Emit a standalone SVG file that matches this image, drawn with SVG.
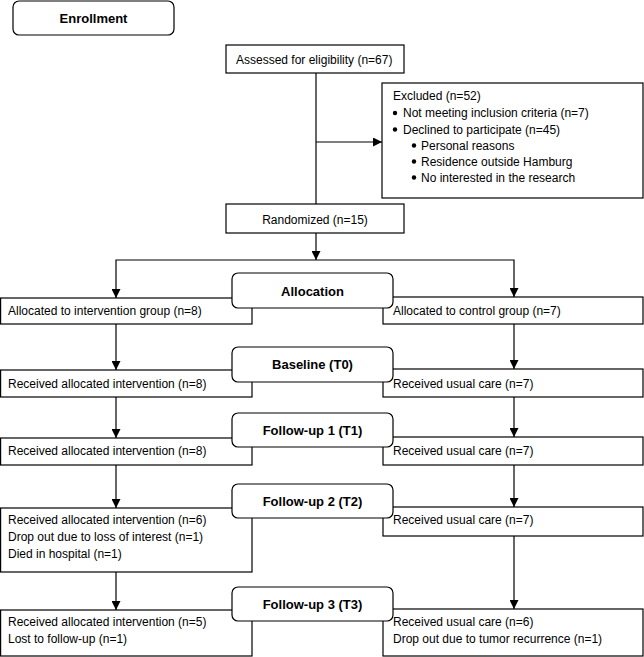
<svg xmlns="http://www.w3.org/2000/svg" width="644" height="657" viewBox="0 0 644 657">
<style>
.box{fill:#fff;stroke:#000;stroke-width:1.2}
.rbox{fill:#fff;stroke:#000;stroke-width:1.2}
.t{font-family:"Liberation Sans",Arial,sans-serif;font-size:12px;fill:#000}
.b{font-family:"Liberation Sans",Arial,sans-serif;font-size:13px;font-weight:bold;fill:#000;text-anchor:middle}
.c{fill:none;stroke:#000;stroke-width:1.2}
</style>
<defs>
<marker id="ah" markerUnits="userSpaceOnUse" markerWidth="9" markerHeight="9" refX="9" refY="4.5" orient="auto">
<path d="M0,0 L9,4.5 L0,9 z" fill="#000"/>
</marker>
</defs>
<g id="connectors">
<path class="c" d="M316,73 V204"/>
<path class="c" d="M316,142 H382" marker-end="url(#ah)"/>
<path class="c" d="M316,233 V260" marker-end="url(#ah)"/>
<path class="c" d="M316,260 H116 V298" marker-end="url(#ah)"/>
<path class="c" d="M316,260 H514 V297" marker-end="url(#ah)"/>
<path class="c" d="M116,324 V370" marker-end="url(#ah)"/>
<path class="c" d="M116,397 V438" marker-end="url(#ah)"/>
<path class="c" d="M116,465 V508" marker-end="url(#ah)"/>
<path class="c" d="M116,572 V610" marker-end="url(#ah)"/>
<path class="c" d="M514,324 V369" marker-end="url(#ah)"/>
<path class="c" d="M514,397 V437" marker-end="url(#ah)"/>
<path class="c" d="M514,465 V507" marker-end="url(#ah)"/>
<path class="c" d="M514,536 V609" marker-end="url(#ah)"/>
</g>
<g id="enrollment">
<rect class="rbox" x="13" y="1" width="161" height="34" rx="6"/>
<text class="b" x="93.5" y="23">Enrollment</text>
</g>
<g id="assessed">
<rect class="box" x="226" y="45" width="178" height="28"/>
<text class="t" x="236" y="64">Assessed for eligibility (n=67)</text>
</g>
<g id="excluded">
<rect class="box" x="382" y="83" width="261" height="115"/>
<text class="t" x="393" y="99.5">Excluded (n=52)</text>
<circle cx="395" cy="113" r="2.2"/>
<text class="t" x="403" y="117">Not meeting inclusion criteria (n=7)</text>
<circle cx="395" cy="129.5" r="2.2"/>
<text class="t" x="403" y="133.5">Declined to participate (n=45)</text>
<circle cx="414" cy="145.5" r="2.2"/>
<text class="t" x="421" y="149.5">Personal reasons</text>
<circle cx="414" cy="161.5" r="2.2"/>
<text class="t" x="421" y="165.5">Residence outside Hamburg</text>
<circle cx="414" cy="177.5" r="2.2"/>
<text class="t" x="421" y="181.5">No interested in the research</text>
</g>
<g id="randomized">
<rect class="box" x="226" y="204" width="178" height="29"/>
<text class="t" x="315" y="224" text-anchor="middle">Randomized (n=15)</text>
</g>
<g id="int-alloc">
<rect class="box" x="0.6" y="298" width="251.4" height="26"/>
<text class="t" x="8" y="315">Allocated to intervention group (n=8)</text>
</g>
<g id="ctl-alloc">
<rect class="box" x="383" y="297" width="260" height="27"/>
<text class="t" x="393" y="315">Allocated to control group (n=7)</text>
</g>
<g id="int-t0">
<rect class="box" x="0.6" y="370" width="251.4" height="27"/>
<text class="t" x="8" y="387.5">Received allocated intervention (n=8)</text>
</g>
<g id="ctl-t0">
<rect class="box" x="383" y="369" width="260" height="28"/>
<text class="t" x="393" y="387.5">Received usual care (n=7)</text>
</g>
<g id="int-t1">
<rect class="box" x="0.6" y="438" width="251.4" height="27"/>
<text class="t" x="8" y="455">Received allocated intervention (n=8)</text>
</g>
<g id="ctl-t1">
<rect class="box" x="383" y="437" width="260" height="28"/>
<text class="t" x="393" y="455">Received usual care (n=7)</text>
</g>
<g id="int-t2">
<rect class="box" x="0.6" y="508" width="251.4" height="64"/>
<text class="t" x="8" y="524">Received allocated intervention (n=6)</text>
<text class="t" x="8" y="541">Drop out due to loss of interest (n=1)</text>
<text class="t" x="8" y="557.5">Died in hospital (n=1)</text>
</g>
<g id="ctl-t2">
<rect class="box" x="383" y="507" width="260" height="29"/>
<text class="t" x="393" y="523.5">Received usual care (n=7)</text>
</g>
<g id="int-t3">
<rect class="box" x="0.6" y="610" width="251.4" height="46"/>
<text class="t" x="8" y="626">Received allocated intervention (n=5)</text>
<text class="t" x="8" y="642.5">Lost to follow-up (n=1)</text>
</g>
<g id="ctl-t3">
<rect class="box" x="383" y="609" width="260" height="47"/>
<text class="t" x="393" y="625.5">Received usual care (n=6)</text>
<text class="t" x="393" y="642.5">Drop out due to tumor recurrence (n=1)</text>
</g>
<g id="allocation">
<rect class="rbox" x="232" y="273" width="161" height="35" rx="6"/>
<text class="b" x="312.5" y="295.5">Allocation</text>
</g>
<g id="baseline">
<rect class="rbox" x="232" y="347" width="161" height="35" rx="6"/>
<text class="b" x="312.5" y="369">Baseline (T0)</text>
</g>
<g id="followup1">
<rect class="rbox" x="232" y="413" width="161" height="34" rx="6"/>
<text class="b" x="312.5" y="435">Follow-up 1 (T1)</text>
</g>
<g id="followup2">
<rect class="rbox" x="232" y="484" width="161" height="34" rx="6"/>
<text class="b" x="312.5" y="506">Follow-up 2 (T2)</text>
</g>
<g id="followup3">
<rect class="rbox" x="232" y="587" width="161" height="34" rx="6"/>
<text class="b" x="312.5" y="609">Follow-up 3 (T3)</text>
</g>
</svg>
